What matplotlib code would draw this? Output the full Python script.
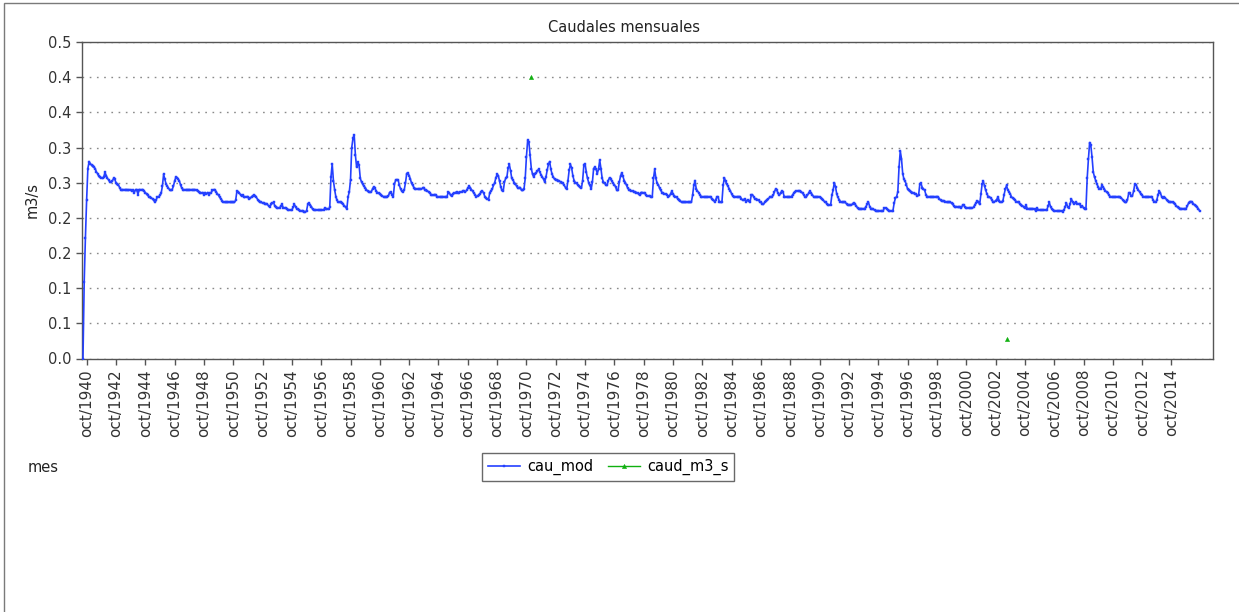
import numpy as np
import matplotlib
matplotlib.use("Agg")
import matplotlib.pyplot as plt
from matplotlib.patches import Rectangle

# Monthly modelled discharge (m3/s), starting oct/1940 (one row per hydrological year)
cau_mod = [
    0.000, 0.109, 0.172, 0.226, 0.270, 0.280, 0.277, 0.275, 0.273, 0.272, 0.270, 0.265,
    0.263, 0.259, 0.258, 0.257, 0.256, 0.258, 0.265, 0.260, 0.256, 0.254, 0.251, 0.251,
    0.252, 0.256, 0.255, 0.250, 0.248, 0.247, 0.243, 0.240, 0.240, 0.240, 0.240, 0.240,
    0.240, 0.239, 0.240, 0.240, 0.238, 0.240, 0.236, 0.240, 0.240, 0.233, 0.240, 0.240,
    0.240, 0.240, 0.238, 0.236, 0.234, 0.232, 0.230, 0.229, 0.228, 0.227, 0.225, 0.222,
    0.226, 0.230, 0.230, 0.232, 0.235, 0.245, 0.262, 0.255, 0.248, 0.245, 0.242, 0.240,
    0.239, 0.240, 0.245, 0.252, 0.258, 0.257, 0.255, 0.252, 0.246, 0.242, 0.240, 0.240,
    0.240, 0.240, 0.240, 0.240, 0.240, 0.240, 0.240, 0.240, 0.240, 0.239, 0.238, 0.237,
    0.236, 0.235, 0.236, 0.233, 0.236, 0.234, 0.236, 0.233, 0.235, 0.236, 0.239, 0.240,
    0.240, 0.237, 0.234, 0.232, 0.229, 0.227, 0.224, 0.222, 0.222, 0.222, 0.222, 0.222,
    0.222, 0.222, 0.222, 0.222, 0.222, 0.225, 0.238, 0.237, 0.235, 0.233, 0.231, 0.232,
    0.229, 0.230, 0.230, 0.230, 0.227, 0.228, 0.230, 0.231, 0.232, 0.231, 0.229, 0.226,
    0.224, 0.222, 0.222, 0.221, 0.221, 0.220, 0.220, 0.219, 0.217, 0.216, 0.219, 0.221,
    0.222, 0.217, 0.215, 0.214, 0.214, 0.214, 0.217, 0.219, 0.214, 0.214, 0.214, 0.213,
    0.211, 0.211, 0.211, 0.211, 0.215, 0.219, 0.216, 0.213, 0.212, 0.211, 0.210, 0.210,
    0.210, 0.209, 0.208, 0.210, 0.219, 0.221, 0.218, 0.216, 0.212, 0.211, 0.211, 0.211,
    0.211, 0.211, 0.211, 0.211, 0.211, 0.211, 0.214, 0.212, 0.213, 0.212, 0.215, 0.258,
    0.277, 0.253, 0.240, 0.230, 0.225, 0.222, 0.222, 0.222, 0.221, 0.219, 0.217, 0.215,
    0.213, 0.230, 0.237, 0.254, 0.300, 0.313, 0.318, 0.289, 0.272, 0.279, 0.275, 0.256,
    0.251, 0.248, 0.245, 0.243, 0.240, 0.238, 0.237, 0.237, 0.237, 0.241, 0.244, 0.242,
    0.238, 0.236, 0.235, 0.234, 0.232, 0.231, 0.230, 0.230, 0.230, 0.230, 0.231, 0.236,
    0.237, 0.233, 0.230, 0.248, 0.254, 0.254, 0.254, 0.246, 0.241, 0.238, 0.237, 0.240,
    0.250, 0.263, 0.264, 0.260, 0.255, 0.249, 0.246, 0.243, 0.241, 0.241, 0.241, 0.241,
    0.241, 0.241, 0.242, 0.243, 0.239, 0.239, 0.238, 0.237, 0.235, 0.233, 0.232, 0.232,
    0.233, 0.232, 0.230, 0.230, 0.230, 0.230, 0.230, 0.230, 0.230, 0.230, 0.230, 0.237,
    0.235, 0.232, 0.231, 0.234, 0.235, 0.236, 0.237, 0.236, 0.236, 0.237, 0.237, 0.238,
    0.238, 0.237, 0.239, 0.242, 0.245, 0.243, 0.240, 0.238, 0.235, 0.233, 0.230, 0.231,
    0.232, 0.234, 0.237, 0.238, 0.235, 0.230, 0.228, 0.227, 0.226, 0.236, 0.238, 0.241,
    0.246, 0.250, 0.257, 0.262, 0.260, 0.252, 0.244, 0.239, 0.238, 0.251, 0.256, 0.258,
    0.271, 0.276, 0.267, 0.256, 0.254, 0.250, 0.248, 0.245, 0.242, 0.243, 0.243, 0.239,
    0.239, 0.241, 0.256, 0.287, 0.310, 0.308, 0.289, 0.270, 0.262, 0.258, 0.263, 0.264,
    0.267, 0.269, 0.265, 0.261, 0.258, 0.255, 0.251, 0.258, 0.268, 0.276, 0.280, 0.269,
    0.262, 0.258, 0.255, 0.254, 0.254, 0.253, 0.252, 0.251, 0.250, 0.249, 0.246, 0.243,
    0.241, 0.253, 0.268, 0.276, 0.271, 0.260, 0.253, 0.250, 0.249, 0.247, 0.245, 0.244,
    0.242, 0.253, 0.275, 0.277, 0.265, 0.256, 0.250, 0.246, 0.241, 0.251, 0.270, 0.272,
    0.269, 0.263, 0.269, 0.282, 0.270, 0.256, 0.251, 0.249, 0.247, 0.246, 0.253, 0.257,
    0.255, 0.252, 0.249, 0.247, 0.244, 0.239, 0.239, 0.251, 0.259, 0.264, 0.259, 0.253,
    0.250, 0.246, 0.242, 0.240, 0.239, 0.238, 0.238, 0.237, 0.237, 0.236, 0.235, 0.234,
    0.232, 0.236, 0.236, 0.235, 0.235, 0.232, 0.231, 0.231, 0.231, 0.230, 0.230, 0.256,
    0.269, 0.256, 0.249, 0.247, 0.242, 0.239, 0.236, 0.235, 0.234, 0.234, 0.233, 0.230,
    0.231, 0.234, 0.238, 0.234, 0.231, 0.230, 0.229, 0.227, 0.226, 0.224, 0.222, 0.222,
    0.222, 0.222, 0.222, 0.222, 0.222, 0.222, 0.222, 0.232, 0.246, 0.253, 0.241, 0.238,
    0.236, 0.233, 0.230, 0.230, 0.230, 0.230, 0.230, 0.230, 0.230, 0.230, 0.229, 0.227,
    0.225, 0.223, 0.226, 0.230, 0.229, 0.222, 0.222, 0.222, 0.246, 0.257, 0.252, 0.248,
    0.245, 0.241, 0.238, 0.234, 0.231, 0.230, 0.230, 0.230, 0.230, 0.230, 0.230, 0.227,
    0.225, 0.226, 0.227, 0.223, 0.225, 0.224, 0.222, 0.232, 0.233, 0.230, 0.227, 0.227,
    0.226, 0.225, 0.223, 0.222, 0.220, 0.219, 0.222, 0.224, 0.225, 0.227, 0.229, 0.230,
    0.230, 0.232, 0.237, 0.241, 0.239, 0.235, 0.232, 0.235, 0.238, 0.237, 0.230, 0.230,
    0.230, 0.230, 0.230, 0.230, 0.230, 0.233, 0.235, 0.237, 0.238, 0.238, 0.238, 0.238,
    0.237, 0.235, 0.233, 0.230, 0.230, 0.232, 0.235, 0.238, 0.235, 0.233, 0.230, 0.230,
    0.230, 0.230, 0.230, 0.230, 0.228, 0.227, 0.225, 0.223, 0.222, 0.220, 0.218, 0.218,
    0.218, 0.232, 0.239, 0.250, 0.244, 0.234, 0.229, 0.226, 0.223, 0.222, 0.222, 0.222,
    0.222, 0.220, 0.218, 0.218, 0.218, 0.218, 0.220, 0.221, 0.219, 0.217, 0.214, 0.213,
    0.213, 0.213, 0.213, 0.213, 0.213, 0.216, 0.220, 0.222, 0.216, 0.213, 0.213, 0.212,
    0.211, 0.210, 0.210, 0.210, 0.210, 0.210, 0.210, 0.210, 0.214, 0.214, 0.213, 0.211,
    0.210, 0.210, 0.210, 0.210, 0.221, 0.228, 0.230, 0.237, 0.272, 0.295, 0.284, 0.263,
    0.255, 0.252, 0.247, 0.241, 0.239, 0.238, 0.237, 0.236, 0.235, 0.234, 0.234, 0.231,
    0.232, 0.248, 0.249, 0.243, 0.241, 0.239, 0.233, 0.230, 0.230, 0.230, 0.230, 0.230,
    0.230, 0.230, 0.230, 0.230, 0.230, 0.227, 0.225, 0.224, 0.224, 0.224, 0.223, 0.222,
    0.222, 0.222, 0.222, 0.221, 0.219, 0.217, 0.215, 0.216, 0.215, 0.215, 0.216, 0.214,
    0.218, 0.218, 0.215, 0.214, 0.214, 0.214, 0.214, 0.214, 0.214, 0.215, 0.218, 0.221,
    0.224, 0.223, 0.219, 0.234, 0.248, 0.252, 0.245, 0.239, 0.234, 0.230, 0.230, 0.228,
    0.226, 0.222, 0.223, 0.224, 0.226, 0.230, 0.224, 0.222, 0.222, 0.224, 0.233, 0.241,
    0.246, 0.240, 0.237, 0.234, 0.230, 0.228, 0.227, 0.225, 0.223, 0.222, 0.222, 0.220,
    0.218, 0.217, 0.216, 0.214, 0.218, 0.213, 0.213, 0.213, 0.213, 0.213, 0.213, 0.212,
    0.210, 0.214, 0.211, 0.211, 0.211, 0.211, 0.211, 0.211, 0.211, 0.211, 0.217, 0.222,
    0.216, 0.213, 0.211, 0.210, 0.210, 0.210, 0.210, 0.210, 0.210, 0.210, 0.209, 0.211,
    0.216, 0.221, 0.216, 0.214, 0.219, 0.227, 0.223, 0.220, 0.221, 0.222, 0.220, 0.220,
    0.219, 0.215, 0.217, 0.214, 0.213, 0.213, 0.256, 0.283, 0.307, 0.303, 0.286, 0.265,
    0.258, 0.253, 0.248, 0.244, 0.241, 0.241, 0.246, 0.244, 0.241, 0.238, 0.237, 0.235,
    0.232, 0.230, 0.230, 0.230, 0.230, 0.230, 0.230, 0.230, 0.230, 0.229, 0.228, 0.226,
    0.224, 0.222, 0.222, 0.226, 0.235, 0.235, 0.231, 0.231, 0.238, 0.248, 0.247, 0.243,
    0.239, 0.237, 0.234, 0.232, 0.230, 0.230, 0.230, 0.230, 0.230, 0.230, 0.230, 0.230,
    0.225, 0.223, 0.222, 0.225, 0.233, 0.238, 0.235, 0.230, 0.228, 0.229, 0.228, 0.226,
    0.224, 0.223, 0.222, 0.222, 0.222, 0.221, 0.219, 0.217, 0.215, 0.214, 0.213, 0.213,
    0.213, 0.213, 0.213, 0.213, 0.217, 0.221, 0.223, 0.223, 0.222, 0.220, 0.218, 0.217,
    0.215, 0.213, 0.210,
]

# Observed discharge (caud_m3_s): only two months carry a value
obs_month_index = [367, 756]
obs_value = [0.400, 0.028]

first_year = 1940
label_step_years = 2
n_labels = 38
x_tick_labels = [f"oct/{first_year + label_step_years * k}" for k in range(n_labels)]
y_ticks = [0.0, 0.05, 0.10, 0.15, 0.20, 0.25, 0.30, 0.35, 0.40, 0.45]
y_tick_labels = ["0.0", "0.1", "0.1", "0.2", "0.2", "0.3", "0.3", "0.4", "0.4", "0.5"]

plt.rcParams['font.family'] = ['DejaVu Sans']

W, H = 1239, 612
fig = plt.figure(figsize=(W / 100, H / 100), dpi=100)
fig.patch.set_facecolor('white')

# outer frame
fig.add_artist(Rectangle((4 / W, -0.01), 1.02, 1 - 3 / H + 0.01, transform=fig.transFigure,
                         fill=False, edgecolor='#7a7a7a', lw=1.0))

L, R, T, B = 82, 1213, 42, 358.5
ax = fig.add_axes([L / W, 1 - B / H, (R - L) / W, (B - T) / H])

months = np.arange(len(cau_mod))
caud = np.full(len(cau_mod), np.nan)
caud[obs_month_index] = obs_value

ax.plot(months, cau_mod, color='#2440ff', lw=1.2, marker='s', ms=1.8,
        markeredgewidth=0.3, label='cau_mod', zorder=3)
ax.plot(months, caud, color='#10b010', lw=1.0, marker='^', ms=3,
        markeredgewidth=0.4, label='caud_m3_s', zorder=4)

ax.set_xlim(-0.8, 925)
ax.set_ylim(0, 0.45)
ax.set_yticks(y_ticks)
ax.set_yticklabels(y_tick_labels, fontsize=10.5, color='#333333')
ax.set_xticks(np.arange(n_labels) * 12 * label_step_years + 3)
ax.set_xticklabels(x_tick_labels, rotation=90, fontsize=11, color='#333333')

ax.yaxis.grid(True, linestyle=(0, (1.2, 4)), color='#8a8a8a', lw=1.0)
ax.xaxis.grid(False)
for s in ax.spines.values():
    s.set_color('#555555')
    s.set_linewidth(1.0)
ax.tick_params(direction='out', length=4, width=1, color='#555555')

fig.text(624 / W, 1 - 27 / H, 'Caudales mensuales', ha='center', va='center',
         fontsize=10.5, color='#222222')
fig.text(32 / W, 1 - 200 / H, 'm3/s', rotation=90, ha='center', va='center',
         fontsize=10.5, color='#222222')
fig.text(28 / W, 1 - 468 / H, 'mes', ha='left', va='center', fontsize=10.5, color='#222222')

handles, labels = ax.get_legend_handles_labels()
leg = fig.legend(handles, labels, loc='center', bbox_to_anchor=(608 / W, 1 - 467 / H),
                 ncol=2, frameon=True, fancybox=False, edgecolor='#444444',
                 fontsize=10.5, handlelength=2.2, columnspacing=1.0, borderpad=0.4,
                 handletextpad=0.5)
leg.get_frame().set_linewidth(1.0)

fig.savefig('out.png', dpi=100, facecolor='white')
